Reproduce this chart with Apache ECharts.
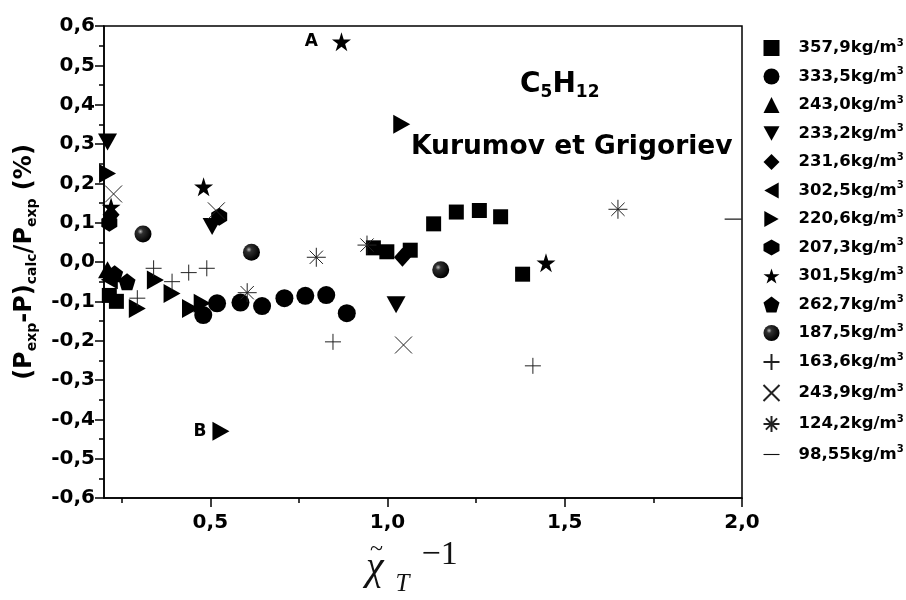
<!DOCTYPE html>
<html>
<head>
<meta charset="utf-8">
<script src="https://cdn.jsdelivr.net/npm/echarts@6/dist/echarts.min.js"></script>
<style>
  html, body { margin: 0; padding: 0; background: #fff; }
  #chart { width: 906px; height: 600px; }
</style>
</head>
<body>
<div id="chart"></div>
<script>
// Relative deviation (P_exp - P_calc)/P_exp in % versus reduced inverse compressibility, n-pentane
const densities = ['357,9', '333,5', '243,0', '233,2', '231,6', '302,5', '220,6', '207,3',
                   '301,5', '262,7', '187,5', '163,6', '243,9', '124,2', '98,55'];

const d357_9 = [[0.215,-0.085],[0.235,-0.1],[0.96,0.036],[0.998,0.026],[1.064,0.03],[1.13,0.097],[1.194,0.127],[1.259,0.131],[1.319,0.115],[1.381,-0.031]];
const d333_5 = [[0.48,-0.135],[0.519,-0.105],[0.585,-0.103],[0.646,-0.112],[0.709,-0.092],[0.768,-0.086],[0.827,-0.084],[0.885,-0.13]];
const d243_0 = [[0.21,-0.02]];
const d233_2 = [[0.21,0.305],[0.505,0.09],[1.024,-0.109]];
const d231_6 = [[0.22,0.12],[1.042,0.012]];
const d302_5 = [[0.215,-0.045]];
const d220_6 = [[0.21,0.225],[0.294,-0.118],[0.345,-0.046],[0.392,-0.08],[0.444,-0.118],[0.477,-0.105],[0.53,-0.43],[1.04,0.35]];
const d207_3 = [[0.215,0.1],[0.525,0.115]];
const d301_5 = [[0.22,0.14],[0.481,0.191],[0.87,0.56],[1.447,-0.002]];
const d262_7 = [[0.23,-0.03],[0.265,-0.05]];
const d187_5 = [[0.31,0.071],[0.616,0.025],[1.15,-0.02]];
const d163_6 = [[0.294,-0.092],[0.34,-0.016],[0.392,-0.05],[0.439,-0.027],[0.49,-0.016],[0.846,-0.203],[1.41,-0.264]];
const d243_9 = [[0.227,0.173],[0.517,0.13],[1.045,-0.211]];
const d124_2 = [[0.604,-0.078],[0.799,0.012],[0.942,0.043],[1.65,0.134]];
const d98_55 = [[1.975,0.109]];

const xMajorTicks = [0.5, 1.0, 1.5, 2.0];
const xMinorTicks = [0.25, 0.75, 1.25, 1.75];

// point annotations: [series index, point index, text, gap]
const tags = [[8, 2, 'A', 14], [6, 6, 'B', 6]];

const P = {
  triDown: 'path://M0,0 L10,0 L5,9 Z',
  triLeft: 'path://M9,0 L9,10 L0,5 Z',
  triRight: 'path://M0,0 L0,10 L9,5 Z',
  hexagon: 'path://M5,0 L10,2.8 L10,7.2 L5,10 L0,7.2 L0,2.8 Z',
  star: 'path://M5,0 L6.18,3.62 L10,3.62 L6.91,5.86 L8.09,9.51 L5,7.27 L1.91,9.51 L3.09,5.86 L0,3.62 L3.82,3.62 Z',
  pentagon: 'path://M5,0 L10,3.8 L8.1,10 L1.9,10 L0,3.8 Z',
  plus: 'path://M0,5 L10,5 M5,0 L5,10',
  cross: 'path://M0,0 L10,10 M10,0 L0,10',
  asterisk: 'path://M0,5 L10,5 M5,0 L5,10 M1.5,1.5 L8.5,8.5 M8.5,1.5 L1.5,8.5',
  dash: 'path://M0,0 L20,0 L20,1.4 L0,1.4 Z'
};

const solid = { color: '#000', borderWidth: 0, opacity: 1 };
const lineOnly = { color: 'none', borderColor: '#222', borderWidth: 1, opacity: 1 };
const sphere = {
  opacity: 1,
  color: new echarts.graphic.RadialGradient(0.35, 0.35, 0.65, [
    { offset: 0, color: '#b8b8b8' },
    { offset: 0.25, color: '#303030' },
    { offset: 1, color: '#000' }
  ])
};

const styles = [
  { data: d357_9, symbol: 'rect', size: 15, item: solid },
  { data: d333_5, symbol: 'circle', size: 18, item: solid },
  { data: d243_0, symbol: 'triangle', size: [19, 17], item: solid },
  { data: d233_2, symbol: P.triDown, size: [19, 17], item: solid },
  { data: d231_6, symbol: 'diamond', size: [17, 19], item: solid },
  { data: d302_5, symbol: P.triLeft, size: [17, 19], item: solid },
  { data: d220_6, symbol: P.triRight, size: [17, 19], item: solid },
  { data: d207_3, symbol: P.hexagon, size: [16, 18], item: solid },
  { data: d301_5, symbol: P.star, size: 19, item: solid },
  { data: d262_7, symbol: P.pentagon, size: 17, item: solid },
  { data: d187_5, symbol: 'circle', size: 17, item: sphere },
  { data: d163_6, symbol: P.plus, size: 16, item: lineOnly },
  { data: d243_9, symbol: P.cross, size: 17, item: lineOnly },
  { data: d124_2, symbol: P.asterisk, size: 19, item: lineOnly },
  { data: d98_55, symbol: P.dash, size: 17, keep: true, item: { color: '#111', opacity: 1 } }
];

const series = styles.map((s, i) => ({
  name: densities[i],
  type: 'scatter',
  xAxisIndex: 0,
  yAxisIndex: 0,
  symbol: s.symbol,
  symbolSize: s.size,
  symbolKeepAspect: !!s.keep,
  itemStyle: s.item,
  emphasis: { disabled: true },
  data: s.data.map((p, j) => {
    const tag = tags.find(t => t[0] === i && t[1] === j);
    if (!tag) return p;
    return {
      value: p,
      label: {
        show: true, formatter: tag[2], position: 'left', distance: tag[3],
        fontFamily: 'DejaVu Sans', fontWeight: 'bold', fontSize: 17, color: '#000'
      }
    };
  })
}));

const boldFont = 'DejaVu Sans';
const serif = 'Liberation Serif';

const chart = echarts.init(document.getElementById('chart'), null, { renderer: 'canvas' });
chart.setOption({
  backgroundColor: '#fff',
  animation: false,
  grid: {
    left: 104, right: 164, top: 26, bottom: 102,
    show: true, borderColor: '#000', borderWidth: 1.5, backgroundColor: 'transparent'
  },
  legend: {
    orient: 'vertical',
    left: 756, top: 33,
    itemWidth: 16, itemHeight: 16, itemGap: 10,
    selectedMode: false,
    data: densities,
    formatter: n => '{a|' + n + 'kg/m}{s|3}',
    textStyle: {
      padding: [0, 0, 0, 14],
      rich: {
        a: { fontFamily: boldFont, fontWeight: 'bold', fontSize: 16.5, color: '#000', lineHeight: 20 },
        s: { fontFamily: boldFont, fontWeight: 'bold', fontSize: 10, color: '#000', verticalAlign: 'top', padding: [0, 0, 8, 0] }
      }
    }
  },
  xAxis: [
    {
      type: 'value', min: 0.2, max: 2.0,
      axisLine: { show: true, onZero: false, lineStyle: { color: '#000', width: 1.5 } },
      axisTick: { show: true, inside: false, length: 9, customValues: xMajorTicks, lineStyle: { color: '#000', width: 1.5 } },
      axisLabel: {
        customValues: xMajorTicks, margin: 15,
        formatter: v => v.toFixed(1).replace('.', ','),
        fontFamily: boldFont, fontWeight: 'bold', fontSize: 20, color: '#000'
      },
      splitLine: { show: false }
    },
    {
      type: 'value', min: 0.2, max: 2.0, position: 'bottom',
      axisLine: { show: false, onZero: false },
      axisTick: { show: true, inside: false, length: 5, customValues: xMinorTicks, lineStyle: { color: '#000', width: 1.5 } },
      axisLabel: { show: false },
      splitLine: { show: false }
    }
  ],
  yAxis: {
    type: 'value', min: -0.6, max: 0.6, interval: 0.1,
    axisLine: { show: true, onZero: false, lineStyle: { color: '#000', width: 1.5 } },
    axisTick: { show: true, inside: false, length: 9, lineStyle: { color: '#000', width: 1.5 } },
    minorTick: { show: true, splitNumber: 2, length: 5, lineStyle: { color: '#000', width: 1.5 } },
    axisLabel: {
      margin: 9,
      formatter: v => (Math.round(v * 10) / 10).toFixed(1).replace('.', ','),
      fontFamily: boldFont, fontWeight: 'bold', fontSize: 20, color: '#000'
    },
    splitLine: { show: false },
    name: '{b|(P}{s|exp}{b|-P)}{s|calc}{b|/P}{s|exp}{b| (%)}',
    nameLocation: 'middle',
    nameRotate: 90,
    nameGap: 64,
    nameTextStyle: {
      rich: {
        b: { fontFamily: boldFont, fontWeight: 'bold', fontSize: 24, color: '#000', lineHeight: 30 },
        s: { fontFamily: boldFont, fontWeight: 'bold', fontSize: 14, color: '#000', lineHeight: 30, padding: [14, 0, 0, 0] }
      }
    }
  },
  graphic: [
    {
      type: 'text', left: 520, top: 68, silent: true,
      style: {
        text: '{b|C}{s|5}{b|H}{s|12}',
        rich: {
          b: { fontFamily: boldFont, fontWeight: 'bold', fontSize: 28, fill: '#000', lineHeight: 34 },
          s: { fontFamily: boldFont, fontWeight: 'bold', fontSize: 17, fill: '#000', lineHeight: 34, padding: [16, 0, 0, 0] }
        }
      }
    },
    {
      type: 'text', left: 411, top: 134, silent: true,
      style: { text: 'Kurumov et Grigoriev', fontFamily: boldFont, fontWeight: 'bold', fontSize: 26.5, fill: '#000' }
    },
    {
      // x-axis title: reduced compressibility chi~_T to the power -1
      type: 'text', left: 366, top: 538, silent: true,
      style: {
        text: '{c|\u03C7}{t|T}{e|\u22121}',
        rich: {
          c: { fontFamily: serif, fontStyle: 'italic', fontSize: 40, fill: '#111', lineHeight: 52 },
          t: { fontFamily: serif, fontStyle: 'italic', fontSize: 25, fill: '#111', lineHeight: 52, padding: [32, 2, 0, 12] },
          e: { fontFamily: serif, fontSize: 34, fill: '#111', lineHeight: 52, padding: [0, 0, 26, 10] }
        }
      }
    },
    {
      type: 'text', left: 370, top: 538, silent: true,
      style: { text: '~', fontFamily: serif, fontSize: 24, fill: '#111' }
    }
  ],
  series: series
});
</script>
</body>
</html>
